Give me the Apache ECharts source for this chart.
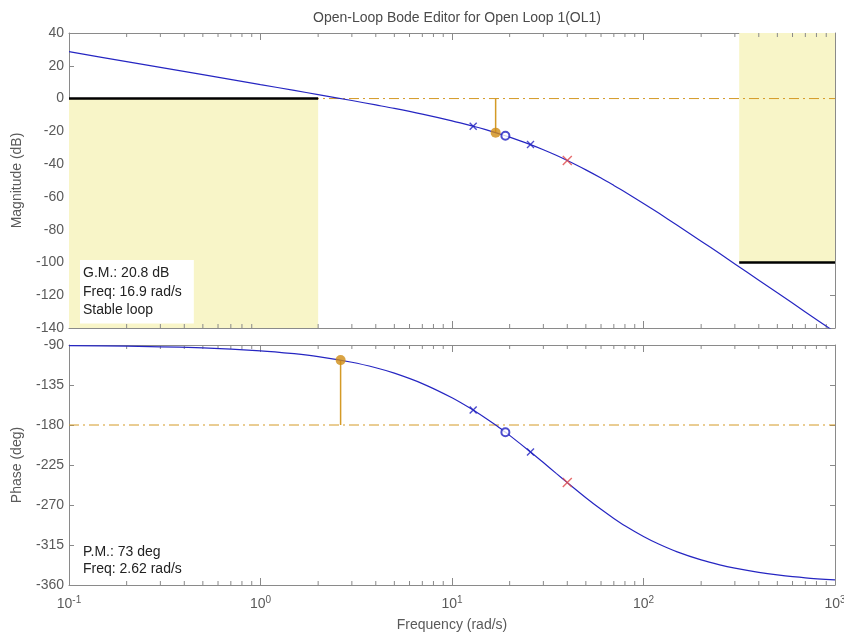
<!DOCTYPE html>
<html>
<head>
<meta charset="UTF-8">
<script src="https://cdn.jsdelivr.net/npm/echarts@6/dist/echarts.min.js"></script>
<style>
    html, body { margin: 0; padding: 0; background: #fff; }
    #container { width: 844px; height: 635px; }
</style>
</head>
<body>
<div id="container"></div>
<script>
    // frequency response
    let freqs = [0.1, 0.2, 0.5, 1, 1.5, 2, 3, 4, 5, 7, 10, 12.9, 15, 16.9, 19, 20, 25.7, 30, 35, 40,
        50, 60, 70, 80, 100, 120, 150, 200, 250, 300, 400, 500, 700, 1000];
    let magDb = [28.6, 22.5, 14.6, 8.5, 5.0, 2.4, -1.2, -3.9, -6.0, -9.5, -13.6, -16.9, -19.0, -20.8, -22.7, -23.5, -28.1, -31.2, -34.6, -37.8,
        -43.5, -48.5, -53.0, -57.0, -64.0, -69.9, -77.3, -87.0, -94.6, -100.9, -110.8, -118.5, -130.2, -142.5];
    let phaseDeg = [-90.7, -91.3, -93.3, -96.5, -99.8, -103.0, -109.4, -115.6, -121.7, -133.4, -149.4, -163.2, -172.4, -180.1, -188.1, -191.7, -210.3, -222.2, -234.4, -244.8,
        -261.8, -274.9, -285.1, -293.3, -305.4, -313.9, -322.7, -331.8, -337.4, -341.1, -345.8, -348.6, -351.9, -354.3];

    // pole / zero markers
    let poleFreqs = [12.9, 25.7];
    let poleMag = [-16.9, -28.1];
    let polePhase = [-163.2, -210.3];
    let zeroFreqs = [19];
    let zeroMag = [-22.7];
    let zeroPhase = [-188.1];
    let compFreqs = [40];
    let compMag = [-37.8];
    let compPhase = [-244.8];

    // stability margins
    let gmFreq = 16.9, gmMag = -20.8;
    let pmFreq = 2.62, pmPhase = -107;

    // design bounds
    let lowBoundFreq = [0.1, 2], lowBoundLevel = 0;
    let highBoundFreq = [316, 1000], highBoundLevel = -100;

    // axis ticks: min, max, interval
    let magTicks = [-140, 40, 20];
    let phaseTicks = [-360, -90, 45];
    let minorTickFreqs = [0.2, 0.3, 0.4, 0.5, 0.6, 0.7, 0.8, 0.9,
        2, 3, 4, 5, 6, 7, 8, 9,
        20, 30, 40, 50, 60, 70, 80, 90,
        200, 300, 400, 500, 600, 700, 800, 900];

    let axisGray = '#8a8a8a';
    let labelGray = '#5a5a5a';
    let curveBlue = '#2626c2';
    let marginOrange = '#d49a26';
    let font = '"Liberation Sans", Arial, sans-serif';
    let fs = 14;

    function zip(xs, ys) {
        return xs.map(function (x, i) { return [x, ys[i]]; });
    }

    function logAxis(grid, pos, withLabel) {
        return {
            gridIndex: grid,
            type: 'log',
            logBase: 10,
            min: 0.1,
            max: 1000,
            position: pos,
            axisLine: { show: true, onZero: false, lineStyle: { color: axisGray } },
            axisTick: { show: true, inside: true, length: 7, lineStyle: { color: axisGray } },
            splitLine: { show: false },
            axisLabel: {
                show: withLabel,
                margin: 10,
                formatter: function (v) {
                    let e = Math.round(Math.log10(v));
                    return '{b|10}{s|' + e + '}';
                },
                rich: {
                    b: { fontSize: fs, color: labelGray, fontFamily: font },
                    s: { fontSize: 10, color: labelGray, fontFamily: font, padding: [0, 0, 9, 0] }
                }
            }
        };
    }

    function valAxis(grid, ticks, pos, withLabel, name) {
        return {
            gridIndex: grid,
            type: 'value',
            min: ticks[0],
            max: ticks[1],
            interval: ticks[2],
            position: pos,
            name: name || '',
            nameLocation: 'middle',
            nameGap: 45,
            nameTextStyle: { fontSize: fs, color: labelGray, fontFamily: font },
            axisLine: { show: true, onZero: false, lineStyle: { color: axisGray } },
            axisTick: { show: true, inside: true, length: 5, lineStyle: { color: axisGray } },
            splitLine: { show: false },
            axisLabel: { show: withLabel, margin: 5, fontSize: fs, color: labelGray, fontFamily: font }
        };
    }

    // minor log ticks on top and bottom edges of a grid
    function minorTicks(xIdx, yIdx, yVal) {
        return {
            type: 'custom',
            xAxisIndex: xIdx,
            yAxisIndex: yIdx,
            silent: true,
            data: minorTickFreqs.map(function (f) { return [f, yVal]; }),
            renderItem: function (params, api) {
                let x = api.coord([api.value(0), api.value(1)])[0];
                let cs = params.coordSys;
                return {
                    type: 'group',
                    children: [{
                        type: 'line',
                        shape: { x1: x, y1: cs.y, x2: x, y2: cs.y + 4 },
                        style: { stroke: axisGray, lineWidth: 1 }
                    }, {
                        type: 'line',
                        shape: { x1: x, y1: cs.y + cs.height, x2: x, y2: cs.y + cs.height - 4 },
                        style: { stroke: axisGray, lineWidth: 1 }
                    }]
                };
            }
        };
    }

    function markerSeries(xIdx, yIdx, xs, ys, symbol, color, size) {
        let hollow = symbol === 'emptyCircle';
        return {
            type: 'scatter',
            xAxisIndex: xIdx,
            yAxisIndex: yIdx,
            symbol: symbol,
            symbolSize: size,
            data: zip(xs, ys),
            itemStyle: { color: hollow ? color : 'none', borderColor: color, borderWidth: 1.4 },
            z: 5
        };
    }

    let crossPath = 'path://M0,0L10,10M10,0L0,10';
    let dashDot = [10, 4, 2, 4];

    let dom = document.getElementById('container');
    let myChart = echarts.init(dom, null, { renderer: 'canvas' });
    let option = {
        animation: false,
        backgroundColor: '#fff',
        title: {
            text: 'Open-Loop Bode Editor for Open Loop 1(OL1)',
            left: 452,
            textAlign: 'center',
            top: 6,
            textStyle: { fontSize: fs, fontWeight: 'normal', color: '#4a4a4a', fontFamily: font }
        },
        grid: [
            { left: 69, right: 9, top: 33, height: 295, outerBoundsMode: 'none', containLabel: false },
            { left: 69, right: 9, top: 345, height: 240, outerBoundsMode: 'none', containLabel: false }
        ],
        xAxis: [
            logAxis(0, 'bottom', false),
            logAxis(0, 'top', false),
            Object.assign(logAxis(1, 'bottom', true), {
                name: 'Frequency (rad/s)',
                nameLocation: 'middle',
                nameGap: 33,
                nameTextStyle: { fontSize: fs, color: labelGray, fontFamily: font }
            }),
            logAxis(1, 'top', false)
        ],
        yAxis: [
            valAxis(0, magTicks, 'left', true, 'Magnitude (dB)'),
            valAxis(0, magTicks, 'right', false),
            valAxis(1, phaseTicks, 'left', true, 'Phase (deg)'),
            valAxis(1, phaseTicks, 'right', false)
        ],
        graphic: [{
            type: 'text',
            left: 80,
            top: 260,
            z: 100,
            style: {
                text: 'G.M.: 20.8 dB\nFreq: 16.9 rad/s\nStable loop',
                font: fs + 'px ' + font,
                fill: '#222',
                lineHeight: 18.5,
                backgroundColor: '#fff',
                padding: [4, 12, 4, 3]
            }
        }, {
            type: 'text',
            left: 80,
            top: 541,
            z: 100,
            style: {
                text: 'P.M.: 73 deg\nFreq: 2.62 rad/s',
                font: fs + 'px ' + font,
                fill: '#222',
                lineHeight: 17.5,
                backgroundColor: '#fff',
                padding: [2, 12, 2, 3]
            }
        }],
        series: [
            minorTicks(0, 0, 0),
            minorTicks(2, 2, -180),
            // design bounds with shaded regions
            {
                type: 'line',
                xAxisIndex: 0,
                yAxisIndex: 0,
                symbol: 'none',
                data: zip(lowBoundFreq, [lowBoundLevel, lowBoundLevel]),
                lineStyle: { color: '#000', width: 2.5 },
                z: 3,
                markArea: {
                    silent: true,
                    itemStyle: { color: '#f8f5c8' },
                    data: [
                        [{ coord: [lowBoundFreq[0], lowBoundLevel] }, { coord: [lowBoundFreq[1], magTicks[0]] }],
                        [{ coord: [highBoundFreq[0], magTicks[1]] }, { coord: [highBoundFreq[1], highBoundLevel] }]
                    ]
                }
            },
            {
                type: 'line',
                xAxisIndex: 0,
                yAxisIndex: 0,
                symbol: 'none',
                data: zip(highBoundFreq, [highBoundLevel, highBoundLevel]),
                lineStyle: { color: '#000', width: 2.5 },
                z: 3
            },
            // 0 dB and -180 deg reference lines
            {
                type: 'line',
                xAxisIndex: 0,
                yAxisIndex: 0,
                symbol: 'none',
                data: [[0.1, 0], [1000, 0]],
                lineStyle: { color: marginOrange, width: 1, type: dashDot },
                z: 2
            },
            {
                type: 'line',
                xAxisIndex: 2,
                yAxisIndex: 2,
                symbol: 'none',
                data: [[0.1, -180], [1000, -180]],
                lineStyle: { color: marginOrange, width: 1, type: dashDot },
                z: 2
            },
            // gain margin / phase margin stems
            {
                type: 'line',
                xAxisIndex: 0,
                yAxisIndex: 0,
                symbol: 'none',
                data: [[gmFreq, 0], [gmFreq, gmMag]],
                lineStyle: { color: marginOrange, width: 1.5 },
                z: 4
            },
            {
                type: 'line',
                xAxisIndex: 2,
                yAxisIndex: 2,
                symbol: 'none',
                data: [[pmFreq, -180], [pmFreq, pmPhase]],
                lineStyle: { color: marginOrange, width: 1.5 },
                z: 4
            },
            // response curves
            {
                type: 'line',
                xAxisIndex: 0,
                yAxisIndex: 0,
                symbol: 'none',
                smooth: 0.3,
                data: zip(freqs, magDb),
                lineStyle: { color: curveBlue, width: 1.2 },
                z: 4
            },
            {
                type: 'line',
                xAxisIndex: 2,
                yAxisIndex: 2,
                symbol: 'none',
                smooth: 0.3,
                data: zip(freqs, phaseDeg),
                lineStyle: { color: curveBlue, width: 1.2 },
                z: 4
            },
            // markers
            markerSeries(0, 0, poleFreqs, poleMag, crossPath, '#2020c0', 7),
            markerSeries(2, 2, poleFreqs, polePhase, crossPath, '#2020c0', 7),
            markerSeries(0, 0, zeroFreqs, zeroMag, 'emptyCircle', '#2020c0', 8),
            markerSeries(2, 2, zeroFreqs, zeroPhase, 'emptyCircle', '#2020c0', 8),
            markerSeries(0, 0, compFreqs, compMag, crossPath, '#e04848', 9),
            markerSeries(2, 2, compFreqs, compPhase, crossPath, '#e04848', 9),
            {
                type: 'scatter',
                xAxisIndex: 0,
                yAxisIndex: 0,
                symbolSize: 10,
                data: [[gmFreq, gmMag]],
                itemStyle: { color: '#d08c14' },
                z: 6
            },
            {
                type: 'scatter',
                xAxisIndex: 2,
                yAxisIndex: 2,
                symbolSize: 10,
                data: [[pmFreq, pmPhase]],
                itemStyle: { color: '#d08c14' },
                z: 6
            }
        ]
    };
    if (option && typeof option === "object") {
        myChart.setOption(option, true);
    }
</script>
</body>
</html>
